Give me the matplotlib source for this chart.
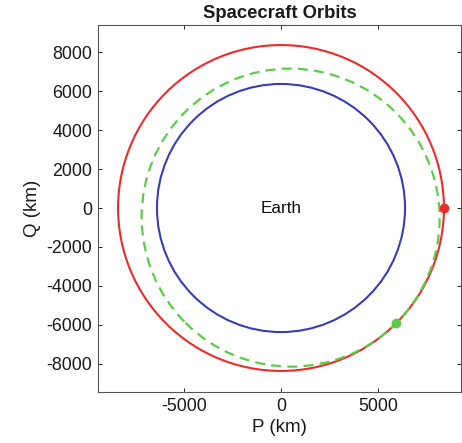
import matplotlib
matplotlib.use("Agg")
import matplotlib.pyplot as plt
from matplotlib.patches import Circle, Ellipse
import numpy as np

plt.rcParams['font.family'] = ['Liberation Sans', 'DejaVu Sans']
plt.rcParams['axes.unicode_minus'] = False   # plain hyphen minus like MATLAB

# --- orbit data (km) ---
earth_radius = 6378
circ_radius = 8378
ell_perigee = 6978
ell_apogee = 8378
ell_apse_deg = -45          # direction of apogee

# spacecraft positions (km)
sc_p = [8378, 5924]
sc_q = [0, -5924]
sc_colors = ['#ee2a2a', '#5ccc48']

xticks = [-5000, 0, 5000]
yticks = [-8000, -6000, -4000, -2000, 0, 2000, 4000, 6000, 8000]

# --- figure ---
fig = plt.figure(figsize=(4.62, 4.43), dpi=100)
ax = fig.add_axes([98 / 462, 51 / 443, 363 / 462, 367 / 443])

# Earth
ax.add_patch(Circle((0, 0), earth_radius, fill=False, ec='#3a3db8', lw=1.5, zorder=2))
# circular orbit
ax.add_patch(Circle((0, 0), circ_radius, fill=False, ec=sc_colors[0], lw=1.5, zorder=2))
# elliptical orbit (focus at origin)
a = (ell_perigee + ell_apogee) / 2
b = np.sqrt(ell_perigee * ell_apogee)
c = a - ell_perigee
th = np.radians(ell_apse_deg)
ax.add_patch(Ellipse((c * np.cos(th), c * np.sin(th)), 2 * a, 2 * b, angle=ell_apse_deg,
                     fill=False, ec=sc_colors[1], lw=1.6, ls=(0, (4.5, 2.8)), zorder=3))

for p, q, col in zip(sc_p, sc_q, sc_colors):
    ax.plot(p, q, 'o', color=col, ms=6, zorder=4)

ax.text(0, 0, 'Earth', ha='center', va='center', fontsize=12.3, color='#111111')

ax.set_xlim(-9410, 9255)
ax.set_ylim(-9460, 9410)
ax.set_xticks(xticks)
ax.set_yticks(yticks)
ax.tick_params(direction='in', length=3, width=0.7, top=True, right=True,
               labelsize=12.8, colors='#262626', pad=4, labelcolor='#1a1a1a')
for s in ax.spines.values():
    s.set_color('#555555')
    s.set_linewidth(0.8)

ax.set_xlabel('P (km)', fontsize=13.5, color='#1a1a1a', labelpad=3)
ax.set_ylabel('Q (km)', fontsize=13.5, color='#1a1a1a', labelpad=4)
ax.set_title('Spacecraft Orbits', fontsize=13.3, fontweight='bold', color='#1a1a1a', pad=5)

fig.savefig('out.png', dpi=100)
